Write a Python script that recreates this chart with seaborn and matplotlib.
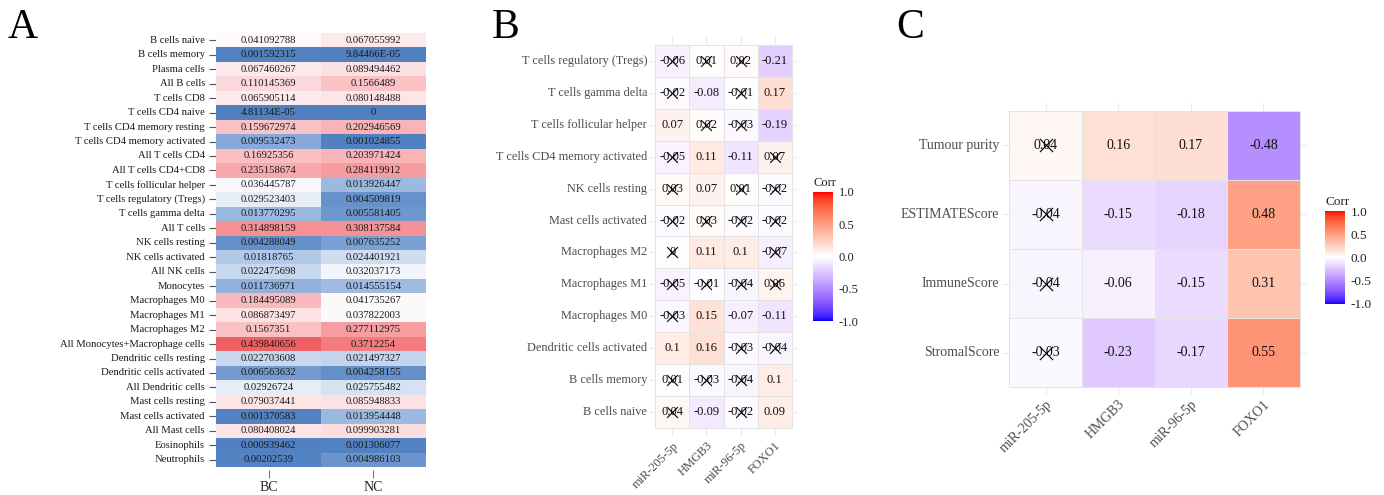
import numpy as np
import pandas as pd
import matplotlib
matplotlib.use("Agg")
import matplotlib.pyplot as plt
import seaborn as sns
from matplotlib.colors import LinearSegmentedColormap, ListedColormap

sns.set_style("white")
plt.rcParams["font.family"] = ["Liberation Serif", "DejaVu Serif"]

# ==========================================================
# DATA
# ==========================================================

# panel A: mean immune cell fractions
cells_a = [
    "B cells naive", "B cells memory", "Plasma cells", "All B cells", "T cells CD8",
    "T cells CD4 naive", "T cells CD4 memory resting", "T cells CD4 memory activated",
    "All T cells CD4", "All T cells CD4+CD8", "T cells follicular helper",
    "T cells regulatory (Tregs)", "T cells gamma delta", "All T cells", "NK cells resting",
    "NK cells activated", "All NK cells", "Monocytes", "Macrophages M0", "Macrophages M1",
    "Macrophages M2", "All Monocytes+Macrophage cells", "Dendritic cells resting",
    "Dendritic cells activated", "All Dendritic cells", "Mast cells resting",
    "Mast cells activated", "All Mast cells", "Eosinophils", "Neutrophils",
]
bc_vals = [
    "0.041092788", "0.001592315", "0.067460267", "0.110145369", "0.065905114",
    "4.81134E-05", "0.159672974", "0.009532473", "0.16925356", "0.235158674",
    "0.036445787", "0.029523403", "0.013770295", "0.314898159", "0.004288049",
    "0.01818765", "0.022475698", "0.011736971", "0.184495089", "0.086873497",
    "0.1567351", "0.439840656", "0.022703608", "0.006563632", "0.02926724",
    "0.079037441", "0.001370583", "0.080408024", "0.000939462", "0.00202539",
]
nc_vals = [
    "0.067055992", "9.84466E-05", "0.089494462", "0.1566489", "0.080148488",
    "0", "0.202946569", "0.001024855", "0.203971424", "0.284119912",
    "0.013926447", "0.004509819", "0.005581405", "0.308137584", "0.007635252",
    "0.024401921", "0.032037173", "0.014555154", "0.041735267", "0.037822003",
    "0.277112975", "0.3712254", "0.021497327", "0.004258155", "0.025755482",
    "0.085948833", "0.013954448", "0.099903281", "0.001306077", "0.004986103",
]
groups_a = ["BC", "NC"]

genes = ["miR-205-5p", "HMGB3", "miR-96-5p", "FOXO1"]

# panel B: correlation of genes with immune cells
cells_b = [
    "T cells regulatory (Tregs)", "T cells gamma delta", "T cells follicular helper",
    "T cells CD4 memory activated", "NK cells resting", "Mast cells activated",
    "Macrophages M2", "Macrophages M1", "Macrophages M0", "Dendritic cells activated",
    "B cells memory", "B cells naive",
]
corr_b = [
    [-0.06, 0.01, 0.02, -0.21],
    [-0.02, -0.08, -0.01, 0.17],
    [0.07, 0.02, -0.03, -0.19],
    [-0.05, 0.11, -0.11, 0.07],
    [0.03, 0.07, 0.01, -0.02],
    [-0.02, 0.03, -0.02, -0.02],
    [0.0, 0.11, 0.1, -0.07],
    [-0.05, -0.01, -0.04, 0.06],
    [-0.03, 0.15, -0.07, -0.11],
    [0.1, 0.16, -0.03, -0.04],
    [0.01, -0.03, -0.04, 0.1],
    [0.04, -0.09, -0.02, 0.09],
]
insig_b = [
    [1, 1, 1, 0],
    [1, 0, 1, 0],
    [0, 1, 1, 0],
    [1, 0, 0, 1],
    [1, 0, 1, 1],
    [1, 1, 1, 1],
    [1, 0, 0, 1],
    [1, 1, 1, 1],
    [1, 0, 0, 0],
    [0, 0, 1, 1],
    [1, 1, 1, 0],
    [1, 0, 1, 0],
]

# panel C: correlation of genes with ESTIMATE scores
scores_c = ["Tumour purity", "ESTIMATEScore", "ImmuneScore", "StromalScore"]
corr_c = [
    [0.04, 0.16, 0.17, -0.48],
    [-0.04, -0.15, -0.18, 0.48],
    [-0.04, -0.06, -0.15, 0.31],
    [-0.03, -0.23, -0.17, 0.55],
]
insig_c = [
    [1, 0, 0, 0],
    [1, 0, 0, 0],
    [1, 0, 0, 0],
    [1, 0, 0, 0],
]

# ==========================================================
# COLOUR MAPS
# ==========================================================

M_RGB2XYZ = np.array([[0.4124, 0.3576, 0.1805],
                      [0.2126, 0.7152, 0.0722],
                      [0.0193, 0.1192, 0.9505]])
WHITE_REF = np.array([0.95047, 1.0, 1.08883])


def to_lab(rgb):
    c = np.asarray(rgb, float)
    c = np.where(c > 0.04045, ((c + 0.055) / 1.055) ** 2.4, c / 12.92)
    xyz = (M_RGB2XYZ @ c) / WHITE_REF
    f = np.where(xyz > 0.008856, np.cbrt(xyz), 7.787 * xyz + 16 / 116)
    return np.array([116 * f[1] - 16, 500 * (f[0] - f[1]), 200 * (f[1] - f[2])])


def from_lab(lab):
    L, a, b = lab
    fy = (L + 16) / 116
    f = np.array([fy + a / 500, fy, fy - b / 200])
    xyz = np.where(f ** 3 > 0.008856, f ** 3, (f - 16 / 116) / 7.787) * WHITE_REF
    c = np.clip(np.linalg.inv(M_RGB2XYZ) @ xyz, 0, 1)
    c = np.where(c > 0.0031308, 1.055 * c ** (1 / 2.4) - 0.055, 12.92 * c)
    return np.clip(c, 0, 1)


# blue - white - red gradient interpolated in Lab (like ggplot gradient2)
lab_blue, lab_white, lab_red = to_lab([0, 0, 1]), to_lab([1, 1, 1]), to_lab([1, 0, 0])
ramp = []
for t in np.linspace(-1, 1, 256):
    if t < 0:
        ramp.append(from_lab(lab_white + (lab_blue - lab_white) * (-t)))
    else:
        ramp.append(from_lab(lab_white + (lab_red - lab_white) * t))
corr_cmap = ListedColormap(ramp)

VMAX_A = 0.44
nodes_a = [
    (0.0, "#5080C0"), (0.002, "#5383C3"), (0.005, "#6C95CD"), (0.01, "#8AABDA"),
    (0.015, "#A2BDE2"), (0.02, "#BCCFEA"), (0.026, "#D8E3F2"), (0.032, "#F2F5FB"),
    (0.04, "#FDFAFB"), (0.067, "#FDE9EB"), (0.1, "#FCDDE0"), (0.157, "#F9C3C6"),
    (0.2, "#F8B5B8"), (0.28, "#F69C9F"), (0.37, "#F37D81"), (0.44, "#EF6064"),
]
cmap_a = LinearSegmentedColormap.from_list(
    "bwr_a", [(v / VMAX_A, c) for v, c in nodes_a], N=2048)

# ==========================================================
# FIGURE
# ==========================================================

W, H = 1384, 495
fig = plt.figure(figsize=(W / 100, H / 100), dpi=100)


def px_axes(x0, y0, x1, y1):
    return fig.add_axes([x0 / W, 1 - y1 / H, (x1 - x0) / W, (y1 - y0) / H])


# ---------------- panel A ----------------
ax_a = px_axes(216, 33, 426, 467)
df_a = pd.DataFrame({"BC": [float(v) for v in bc_vals],
                     "NC": [float(v) for v in nc_vals]}, index=cells_a)
annot_a = np.array([bc_vals, nc_vals]).T
sns.heatmap(df_a, ax=ax_a, cmap=cmap_a, vmin=0, vmax=VMAX_A, cbar=False,
            annot=annot_a, fmt="", annot_kws={"fontsize": 7.7, "color": "#1a1a1a"})
ax_a.set_yticks(np.arange(len(cells_a)) + 0.5)
ax_a.set_yticklabels(cells_a, fontsize=7.7, color="#1a1a1a", rotation=0)
ax_a.set_xticklabels(groups_a, fontsize=7.5, fontweight="bold", color="#1a1a1a")
ax_a.tick_params(axis="y", length=5, width=0.8, color="#555555", pad=3, left=True)
ax_a.tick_params(axis="x", length=6, width=0.8, color="#777777", pad=2, bottom=True)
ax_a.spines["bottom"].set_position(("outward", 2))
ax_a.set_xlabel("")
ax_a.set_ylabel("")
for s in ax_a.spines.values():
    s.set_visible(False)


def corr_panel(ax, cax, data, rows, insig, pad_x, pad_y, fs_lab, fs_txt, xs_size, cbar_fs):
    df = pd.DataFrame(data, index=rows, columns=genes)
    annot = np.array([[f"{v:g}" for v in r] for r in data])
    sns.heatmap(df, ax=ax, cmap=corr_cmap, vmin=-1, vmax=1, cbar_ax=cax,
                annot=annot, fmt="", linewidths=0.6, linecolor="#E3E3E3",
                annot_kws={"fontsize": fs_txt, "color": "#111111"},
                cbar_kws={"ticks": [-1, -0.5, 0, 0.5, 1]})
    ins = np.array(insig)
    yy, xx = np.nonzero(ins)
    ax.scatter(xx + 0.5, yy + 0.5, marker="x", s=xs_size, c="black", linewidths=0.8, zorder=5)
    nr, nc = df.shape
    ax.set_xlim(-pad_x, nc + pad_x)
    ax.set_ylim(nr + pad_y, -pad_y)
    ax.set_axisbelow(True)
    ax.grid(True, color="#EBEBEB", linewidth=0.8)
    ax.set_yticks(np.arange(nr) + 0.5)
    ax.set_yticklabels(rows, fontsize=fs_lab, color="#4D4D4D", rotation=0)
    ax.set_xticks(np.arange(nc) + 0.5)
    ax.set_xticklabels(genes, fontsize=fs_lab, color="#4D4D4D", rotation=45,
                       ha="right", va="top", rotation_mode="anchor")
    ax.tick_params(length=0, pad=2)
    ax.set_xlabel("")
    ax.set_ylabel("")
    for s in ax.spines.values():
        s.set_visible(False)
    cb = ax.collections[0].colorbar
    cb.outline.set_visible(False)
    cax.set_yticklabels(["-1.0", "-0.5", "0.0", "0.5", "1.0"])
    cax.tick_params(direction="in", color="white", length=4, width=0.8,
                    labelsize=cbar_fs, labelcolor="#222222", pad=4)
    cax.set_title("Corr", fontsize=cbar_fs, loc="left", pad=4, color="#222222")


# ---------------- panel B ----------------
ax_b = px_axes(655 - 5, 45 - 9, 793 + 4, 428 + 9)
cax_b = px_axes(813, 192, 833, 321)
corr_panel(ax_b, cax_b, corr_b, cells_b, insig_b, 0.15, 0.28, 8.8, 9, 60, 9)

# ---------------- panel C ----------------
ax_c = px_axes(1009 - 7, 111 - 8, 1299 + 8, 388 + 7)
cax_c = px_axes(1325, 211, 1345, 304)
corr_panel(ax_c, cax_c, corr_c, scores_c, insig_c, 0.1, 0.11, 10, 10, 90, 9.5)

# panel letters
for lbl, x in [("A", 8), ("B", 492), ("C", 896)]:
    fig.text(x / W, 1 - 8 / H, lbl, fontsize=30, va="top", ha="left", color="black")

fig.savefig("out.png", dpi=100)
